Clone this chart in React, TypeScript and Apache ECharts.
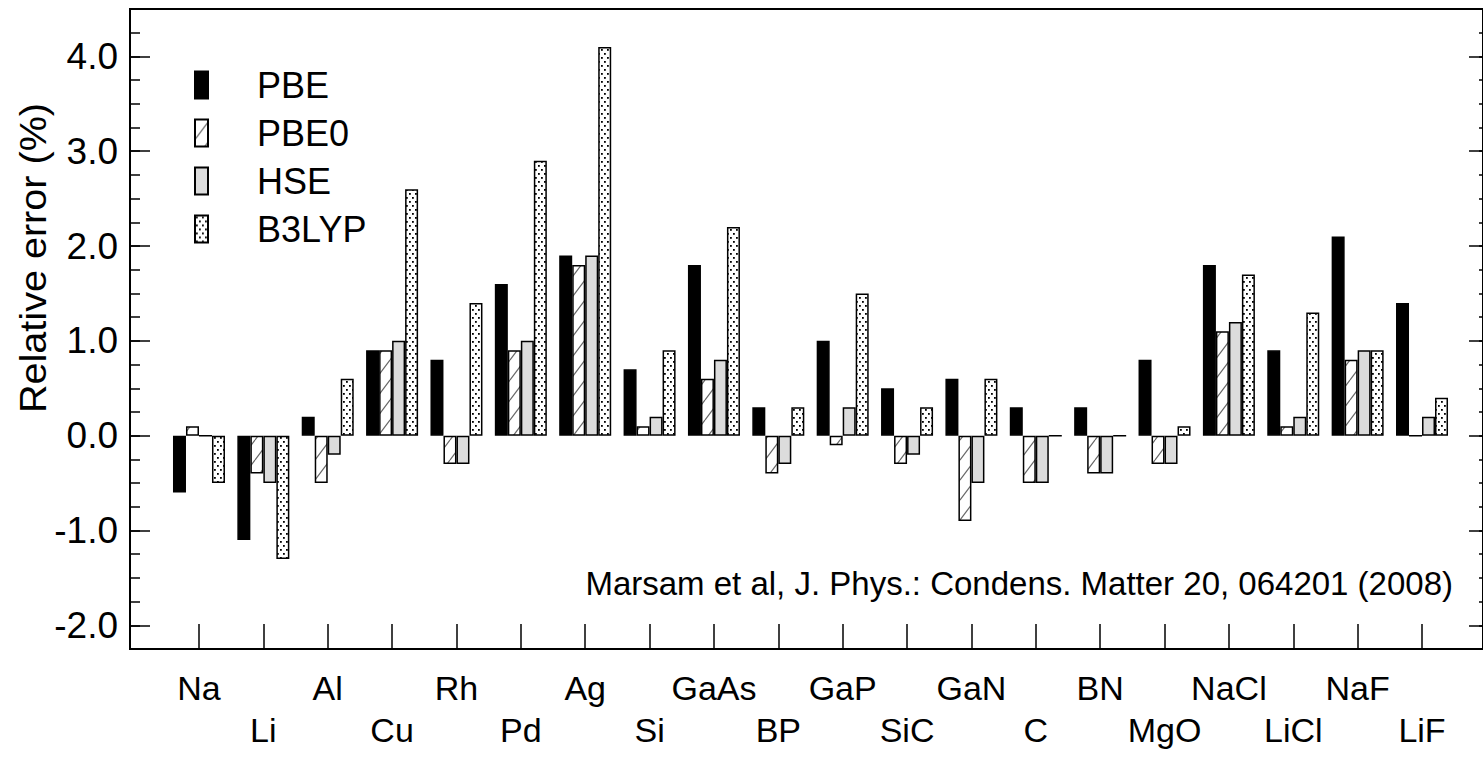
import React, { useEffect, useRef } from "react";
import * as echarts from "echarts";

const categories = ["Na", "Li", "Al", "Cu", "Rh", "Pd", "Ag", "Si", "GaAs", "BP", "GaP", "SiC", "GaN", "C", "BN", "MgO", "NaCl", "LiCl", "NaF", "LiF"];
const seriesNames = ["PBE", "PBE0", "HSE", "B3LYP"];
const pbe = [-0.6, -1.1, 0.2, 0.9, 0.8, 1.6, 1.9, 0.7, 1.8, 0.3, 1.0, 0.5, 0.6, 0.3, 0.3, 0.8, 1.8, 0.9, 2.1, 1.4];
const pbe0 = [0.1, -0.4, -0.5, 0.9, -0.3, 0.9, 1.8, 0.1, 0.6, -0.4, -0.1, -0.3, -0.9, -0.5, -0.4, -0.3, 1.1, 0.1, 0.8, 0];
const hse = [0, -0.5, -0.2, 1.0, -0.3, 1.0, 1.9, 0.2, 0.8, -0.3, 0.3, -0.2, -0.5, -0.5, -0.4, -0.3, 1.2, 0.2, 0.9, 0.2];
const b3lyp = [-0.5, -1.3, 0.6, 2.6, 1.4, 2.9, 4.1, 0.9, 2.2, 0.3, 1.5, 0.3, 0.6, 0, 0, 0.1, 1.7, 1.3, 0.9, 0.4];
const yTitle = "Relative error (%)";
const citation = "Marsam et al, J. Phys.: Condens. Matter 20, 064201 (2008)";

const SANS = "'Liberation Sans', Arial, Helvetica, sans-serif";

function hatchPattern() {
  const w = 15, h = 20;
  const c = document.createElement("canvas");
  c.width = w; c.height = h;
  const ctx = c.getContext("2d")!;
  ctx.fillStyle = "#ffffff";
  ctx.fillRect(0, 0, w, h);
  ctx.strokeStyle = "#666666";
  ctx.lineWidth = 1.2;
  ctx.beginPath();
  for (const x0 of [-w, 0, w]) {
    ctx.moveTo(x0, h);
    ctx.lineTo(x0 + w, 0);
  }
  ctx.stroke();
  return { image: c.toDataURL(), imageWidth: w, imageHeight: h, repeat: "repeat" };
}

function dotPattern() {
  const w = 6, h = 8;
  const c = document.createElement("canvas");
  c.width = w; c.height = h;
  const ctx = c.getContext("2d")!;
  ctx.fillStyle = "#ffffff";
  ctx.fillRect(0, 0, w, h);
  ctx.fillStyle = "#000000";
  ctx.fillRect(1, 1, 1.8, 1.8);
  ctx.fillRect(4, 5, 1.8, 1.8);
  return { image: c.toDataURL(), imageWidth: w, imageHeight: h, repeat: "repeat" };
}

export default function App() {
  const ref = useRef<HTMLDivElement>(null);
  useEffect(() => {
    if (!ref.current) return;
    const chart = echarts.init(ref.current, undefined, { renderer: "svg" });
    const fills: any[] = ["#000000", hatchPattern(), "#dcdcdc", dotPattern()];
    const dataSets = [pbe, pbe0, hse, b3lyp];

    const tick = (len: number) => ({ show: true, inside: true, length: len, lineStyle: { color: "#000", width: 1.5 } });

    const option: any = {
      animation: false,
      backgroundColor: "#ffffff",
      grid: [
        { left: 130, top: 9, width: 1354, height: 640, show: true, borderColor: "#000", borderWidth: 2, backgroundColor: "transparent" },
        { left: 130, top: 56.4, width: 1354, height: 568.9 },
        { left: 166.8, top: 9, width: 1287.4, height: 640 },
      ],
      legend: {
        orient: "vertical",
        left: 189,
        top: 62,
        icon: "rect",
        itemWidth: 13,
        itemHeight: 27,
        itemGap: 12,
        selectedMode: false,
        data: seriesNames,
        textStyle: { fontFamily: SANS, fontSize: 36, color: "#000", padding: [0, 0, 0, 44] },
      },
      xAxis: [
        { gridIndex: 0, type: "value", show: false },
        { gridIndex: 1, type: "value", show: false },
        {
          gridIndex: 2,
          type: "category",
          data: categories,
          axisLine: { show: false, onZero: false },
          axisTick: { show: true, alignWithLabel: true, inside: true, length: 25, lineStyle: { color: "#000", width: 1.5 } },
          axisLabel: {
            interval: 0,
            margin: 18,
            color: "#000",
            fontFamily: SANS,
            fontSize: 34,
            lineHeight: 42,
            formatter: (v: string, i: number) => (i % 2 === 1 ? "\n" + v : v),
          },
          splitLine: { show: false },
        },
      ],
      yAxis: [
        { gridIndex: 0, type: "value", min: -2.25, max: 4.5, interval: 0.25, position: "left", axisLine: { show: false }, axisTick: tick(10), axisLabel: { show: false }, splitLine: { show: false } },
        { gridIndex: 0, type: "value", min: -2.25, max: 4.5, interval: 0.25, position: "right", axisLine: { show: false }, axisTick: tick(4), axisLabel: { show: false }, splitLine: { show: false } },
        {
          gridIndex: 1, type: "value", min: -2, max: 4, interval: 1, position: "left",
          axisLine: { show: false }, axisTick: tick(20), splitLine: { show: false },
          axisLabel: { margin: 12, color: "#000", fontFamily: SANS, fontSize: 37, formatter: (v: number) => v.toFixed(1) },
        },
        { gridIndex: 1, type: "value", min: -2, max: 4, interval: 1, position: "right", axisLine: { show: false }, axisTick: tick(14), axisLabel: { show: false }, splitLine: { show: false } },
        { gridIndex: 2, type: "value", min: -2.25, max: 4.5, show: false },
      ],
      series: seriesNames.map((name, k) => ({
        type: "bar",
        name,
        xAxisIndex: 2,
        yAxisIndex: 4,
        data: dataSets[k],
        barWidth: 13,
        barGap: "0%",
        itemStyle: { color: fills[k], borderColor: "#000", borderWidth: 1.5 },
      })),
      graphic: [
        {
          type: "text",
          x: 33,
          y: 258,
          rotation: Math.PI / 2,
          scaleX: 1.07,
          style: { text: yTitle, font: `37px ${SANS}`, fill: "#000", align: "center", verticalAlign: "middle" },
        },
        {
          type: "text",
          x: 1453,
          y: 583,
          style: { text: citation, font: `33px ${SANS}`, fill: "#000", align: "right", verticalAlign: "middle" },
        },
      ],
    };
    chart.setOption(option);
    return () => chart.dispose();
  }, []);
  return <div ref={ref} style={{ position: "fixed", left: 0, top: 0, width: 1483, height: 763 }} />;
}
